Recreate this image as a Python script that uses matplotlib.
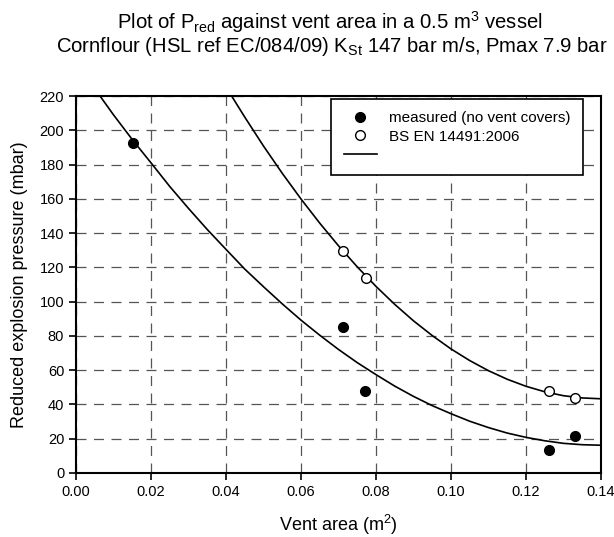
import numpy as np
import matplotlib
matplotlib.use("Agg")
import matplotlib.pyplot as plt

plt.rcParams['font.family'] = ['Liberation Sans', 'DejaVu Sans']
plt.rcParams['mathtext.default'] = 'regular'

# measured points (no vent covers)
measured_area = [0.0153, 0.0711, 0.0771, 0.1262, 0.1331]
measured_pred = [192.4, 85.0, 48.0, 13.6, 21.6]

# BS EN 14491:2006 predicted points
bs_area = [0.0713, 0.0773, 0.1262, 0.1331]
bs_pred = [129.7, 113.6, 47.8, 43.6]

# trend curves
low_area = [0.0064, 0.010, 0.015, 0.020, 0.025, 0.030, 0.035, 0.040, 0.045,
            0.050, 0.055, 0.060, 0.065, 0.070, 0.075, 0.080, 0.085, 0.090,
            0.095, 0.100, 0.105, 0.110, 0.115, 0.120, 0.125, 0.130, 0.135, 0.140]
low_pred = [220, 209, 194.6, 181, 167.2, 154.4, 142.1, 130.5, 119,
            108.7, 98.7, 89.2, 80.4, 72.1, 64.4, 57.4, 50.7, 44.7,
            39.3, 34.6, 30.2, 26.5, 23.3, 20.8, 18.8, 17.3, 16.5, 16.2]

up_area = [0.0415, 0.045, 0.050, 0.055, 0.060, 0.065, 0.070, 0.075, 0.080,
           0.085, 0.090, 0.095, 0.100, 0.105, 0.110, 0.115, 0.120, 0.125,
           0.130, 0.135, 0.140]
up_pred = [220, 207.7, 190.8, 174.9, 159.9, 145.8, 132.6, 120.3, 108.9,
           98.4, 88.8, 80.2, 72.4, 65.6, 59.7, 54.7, 50.6, 47.4,
           45.1, 43.8, 43.3]

fig = plt.figure(figsize=(6.14, 5.37), dpi=100)
ax = fig.add_axes([0.1238, 0.1192, 0.855, 0.702])

line, = ax.plot(low_area, low_pred, color='black', lw=1.2, zorder=2)
ax.plot(up_area, up_pred, color='black', lw=1.2, zorder=2)
m1, = ax.plot(measured_area, measured_pred, 'o', color='black', ms=7, ls='none', zorder=3)
m2, = ax.plot(bs_area, bs_pred, 'o', mfc='white', mec='black', mew=1.0, ms=7, ls='none', zorder=3)

ax.set_xlim(0, 0.14)
ax.set_ylim(0, 220)
ax.set_xticks(np.arange(0, 0.141, 0.02))
ax.set_yticks(np.arange(0, 221, 20))
ax.set_xticklabels(['%.2f' % v for v in np.arange(0, 0.141, 0.02)])
ax.tick_params(labelsize=10.5, direction='out', length=5, width=1.2, colors='black')
ax.grid(True, color='#555555', ls=(0, (8, 6)), lw=0.9)
ax.set_axisbelow(True)
for s in ax.spines.values():
    s.set_linewidth(1.5)

ax.set_xlabel('Vent area (m$^2$)', fontsize=13, labelpad=10)
ax.set_ylabel('Reduced explosion pressure (mbar)', fontsize=13, labelpad=8)

leg = ax.legend([m1, m2, line], ['measured (no vent covers)', 'BS EN 14491:2006', ''],
                loc='upper right', bbox_to_anchor=(0.966, 0.992), borderaxespad=0,
                fontsize=11, frameon=True, fancybox=False, framealpha=1,
                edgecolor='black', handlelength=2.2, borderpad=0.8, labelspacing=0.3)
leg.get_frame().set_linewidth(1.2)

fig.text(0.537, 0.959, 'Plot of P$_{red}$ against vent area in a 0.5 m$^3$ vessel',
         ha='center', va='center', fontsize=14.6)
fig.text(0.54, 0.914, 'Cornflour (HSL ref EC/084/09) K$_{St}$ 147 bar m/s, Pmax 7.9 bar',
         ha='center', va='center', fontsize=14.6)

fig.savefig('out.png', dpi=100)
